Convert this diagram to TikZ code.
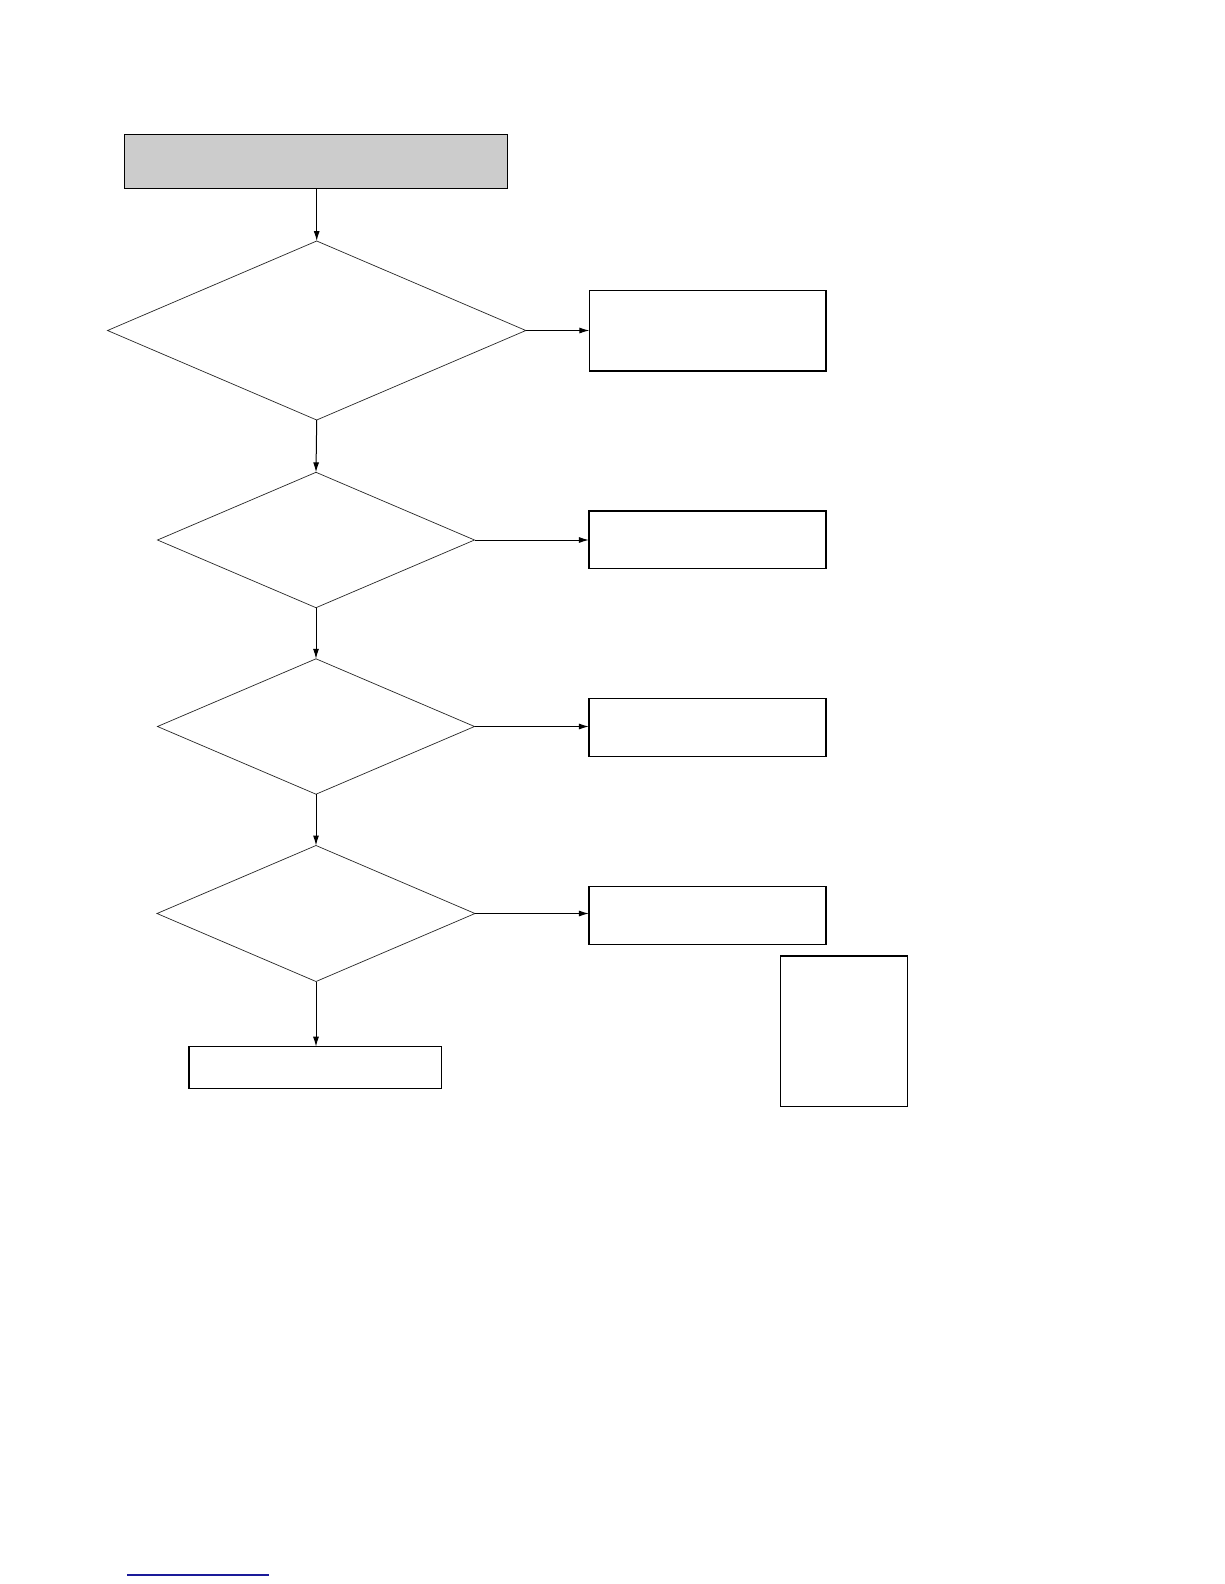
\documentclass[tikz,border=0pt]{standalone}
\usetikzlibrary{shapes.geometric,arrows.meta}
\definecolor{boxgrey}{HTML}{CCCCCC}
\definecolor{linkblue}{HTML}{1A1A99}
\begin{document}
\begin{tikzpicture}[x=1pt,y=-1pt,
  box/.style={draw=black,line width=1.2pt,rectangle,inner sep=0pt,outer sep=0pt},
  dec/.style={draw=black!85,line width=0.7pt,diamond,inner sep=0pt,outer sep=0pt},
  conn/.style={draw=black,line width=1pt,-{Latex[length=10pt,width=6pt]}}]
\useasboundingbox[fill=white] (0,0) rectangle (1224,1584);
\node[box,fill=boxgrey,line width=1.5pt,minimum width=383pt,minimum height=53.6pt] (start) at (315.8,161.5) {};
\node[dec,minimum width=418.3pt,minimum height=179pt] (d1) at (316.7,330.5) {};
\node[dec,minimum width=317pt,minimum height=135.4pt] (d2) at (316,540) {};
\node[dec,minimum width=317pt,minimum height=135.4pt] (d3) at (316,726.5) {};
\node[dec,minimum width=318pt,minimum height=136pt] (d4) at (316,913.5) {};
\node[box,minimum width=236.7pt,minimum height=80.7pt] (r1) at (707.7,330.7) {};
\node[box,minimum width=237pt,minimum height=57.6pt] (r2) at (707.4,539.8) {};
\node[box,minimum width=237pt,minimum height=57.6pt] (r3) at (707.4,727.6) {};
\node[box,minimum width=237pt,minimum height=57.6pt] (r4) at (707.4,915.5) {};
\node[box,minimum width=252.7pt,minimum height=42pt] (end) at (315.4,1067.7) {};
\node[box,minimum width=126.6pt,minimum height=150.7pt] (note) at (844,1031.4) {};
\draw[conn] (start.south -| d1.north) -- (d1.north);
\draw[conn] (d1.south) -- (d2.north);
\draw[conn] (d2.south) -- (d3.north);
\draw[conn] (d3.south) -- (d4.north);
\draw[conn] (d4.south) -- (end.north -| d4.south);
\draw[conn] (d1.east) -- (r1.west |- d1.east);
\draw[conn] (d2.east) -- (r2.west |- d2.east);
\draw[conn] (d3.east) -- (r3.west |- d3.east);
\draw[conn] (d4.east) -- (r4.west |- d4.east);
\coordinate (la) at (127.3,1575);
\coordinate (lb) at (268.7,1575);
\draw[linkblue,line width=1.2pt] (la) -- (lb);
\end{tikzpicture}
\end{document}
